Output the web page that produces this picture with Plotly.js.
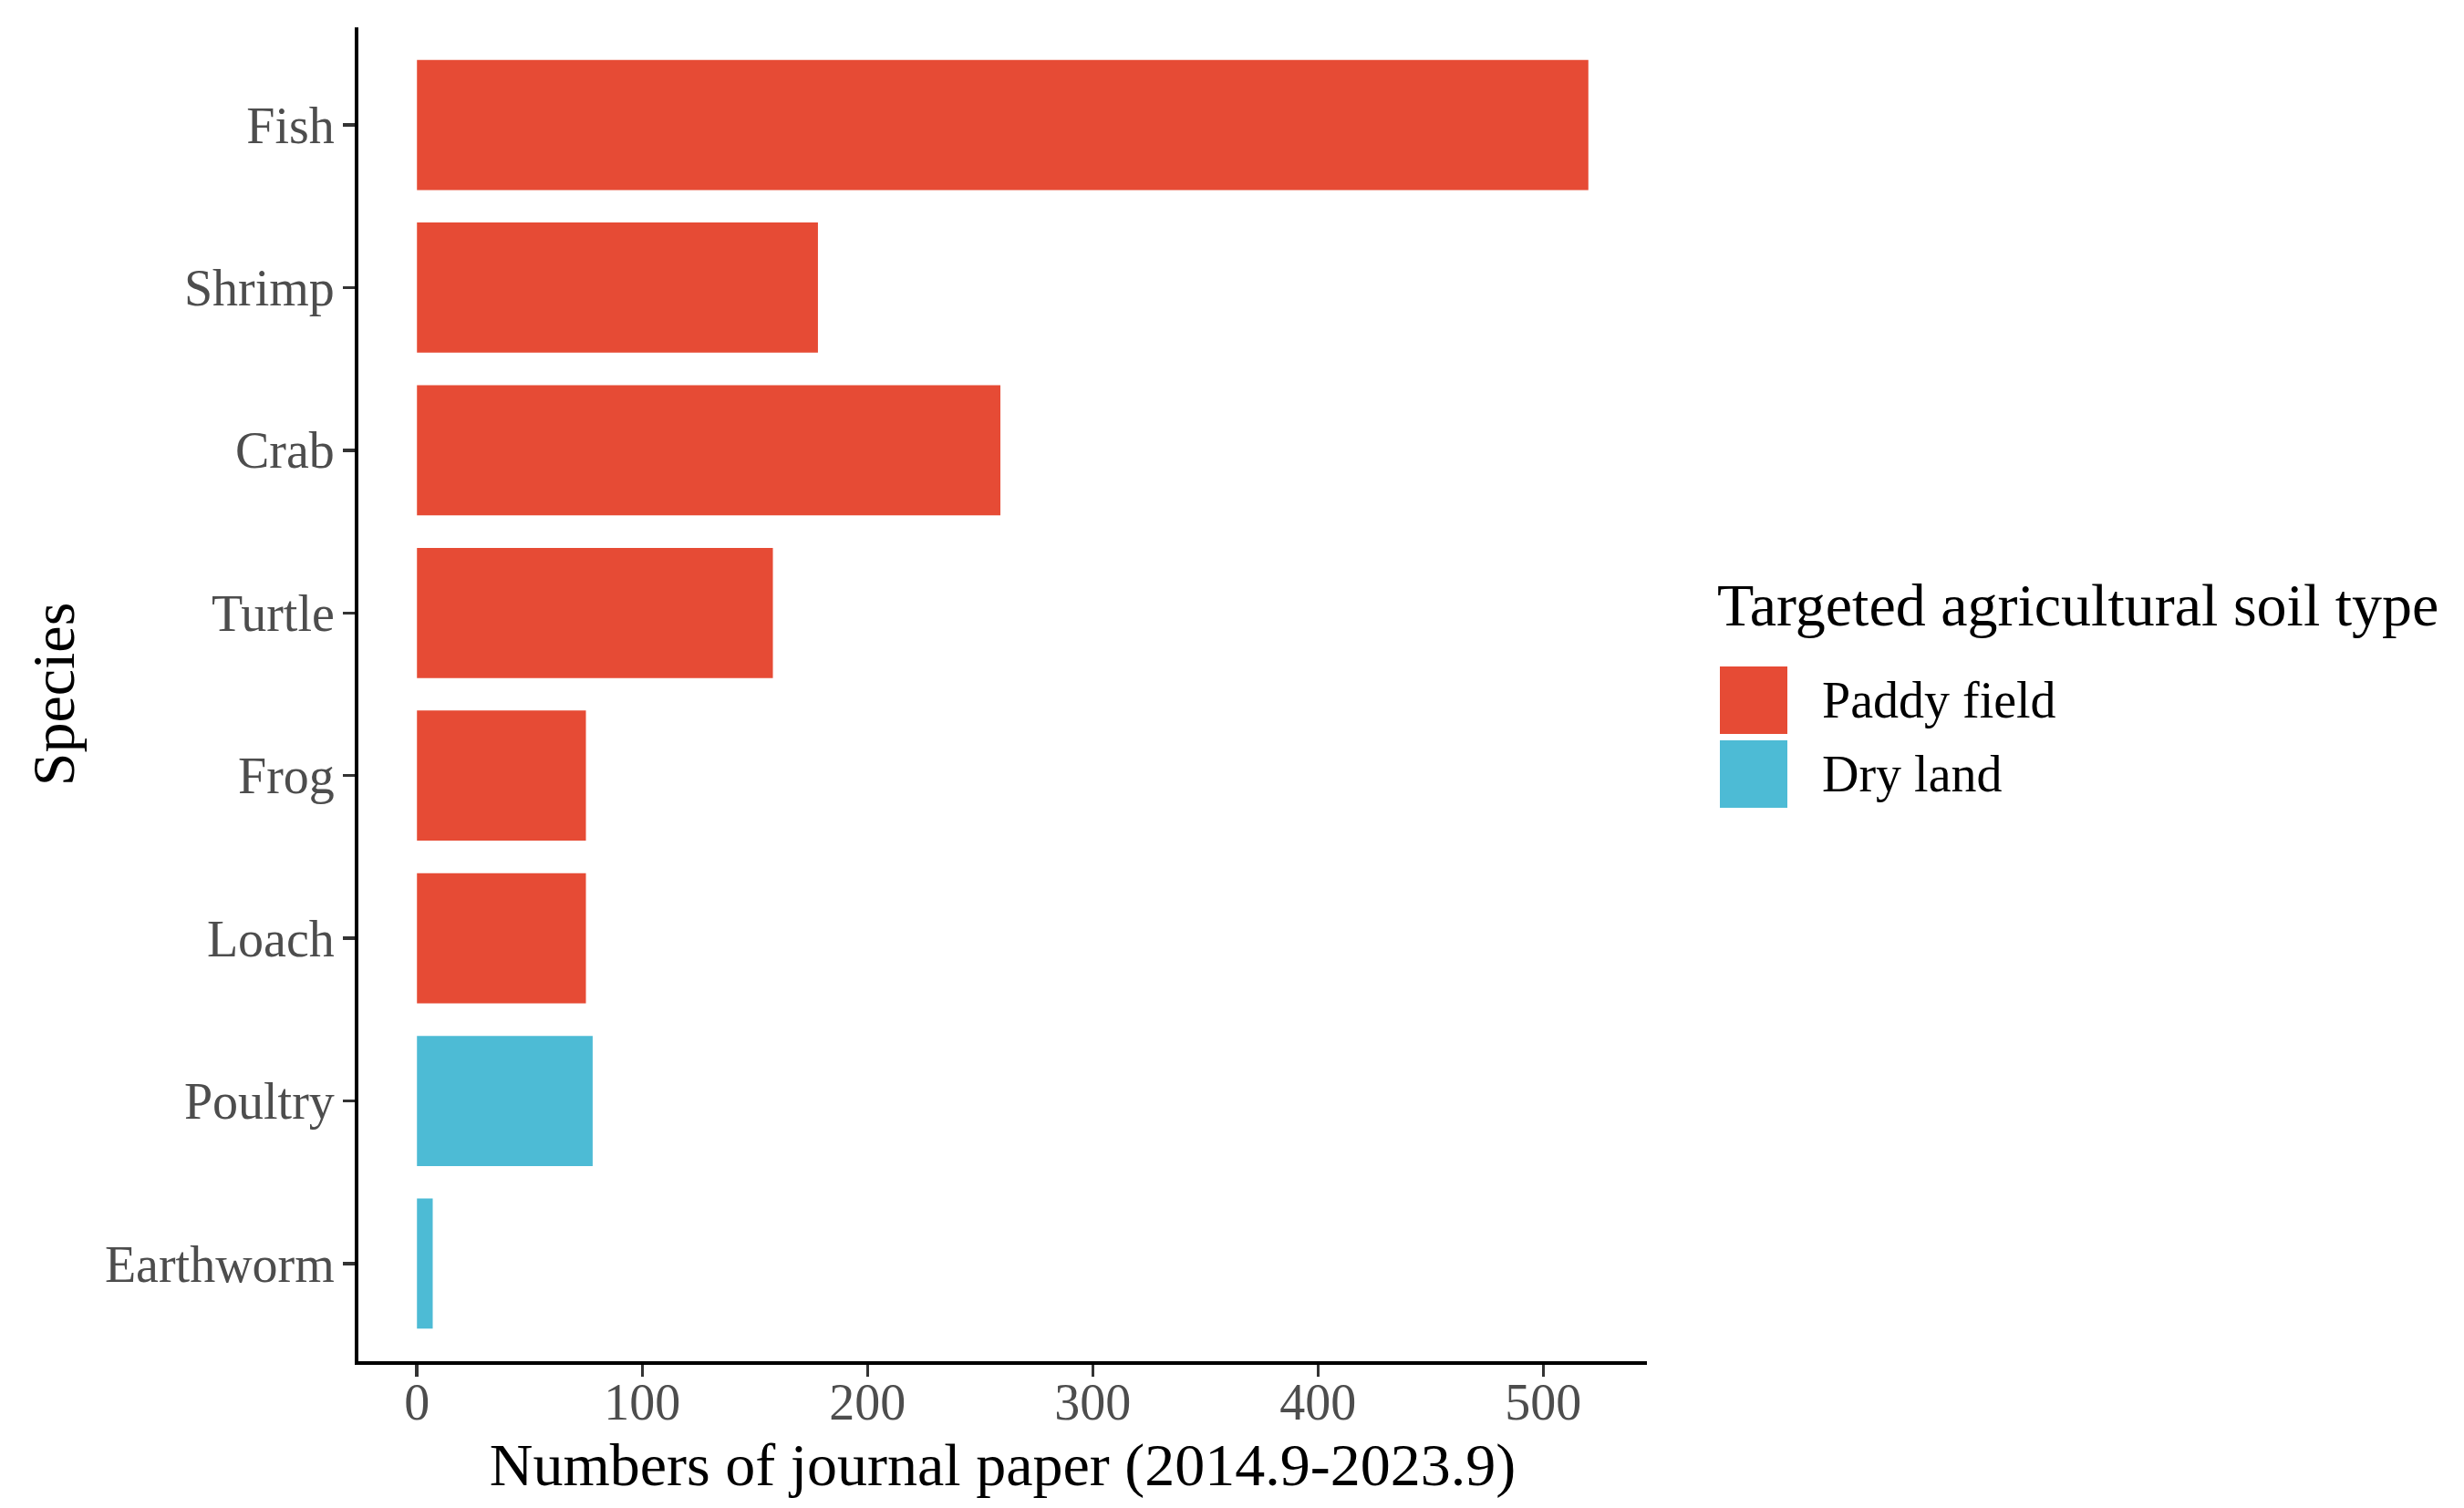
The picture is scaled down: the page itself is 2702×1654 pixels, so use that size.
<!DOCTYPE html>
<html>
<head>
<meta charset="utf-8">
<script src="https://cdn.plot.ly/plotly-3.0.1.min.js"></script>
<style>html,body{margin:0;padding:0;background:#fff;}#chart{width:2702px;height:1654px;}</style>
</head>
<body>
<div id="chart"></div>
<script>
// ---- data ----
const species = ["Fish", "Shrimp", "Crab", "Turtle", "Frog", "Loach", "Poultry", "Earthworm"];
const soilTypes = ["Paddy field", "Dry land"];
const paddySpecies = ["Fish", "Shrimp", "Crab", "Turtle", "Frog", "Loach"];
const paddyCounts = [520, 178, 259, 158, 75, 75];
const drySpecies = ["Poultry", "Earthworm"];
const dryCounts = [78, 7];
const soilColors = ["#E64B35", "#4DBBD5"];
const xTickVals = [0, 100, 200, 300, 400, 500];
const xTitle = "Numbers of journal paper (2014.9-2023.9)";
const yTitle = "Species";
const legendTitle = "Targeted agricultural soil type";

// ---- layout geometry (pixels) ----
const W = 2702, H = 1654;
const L = 393, R = 1806, T = 30, B = 1493;
const pw = R - L, ph = B - T;
const px2x = p => (p - L) / pw;
const px2y = p => (B - p) / ph;
const serif = "Liberation Serif, Times New Roman, serif";

const traces = [
  {type: "bar", orientation: "h", name: soilTypes[0], y: paddySpecies, x: paddyCounts,
   marker: {color: soilColors[0], line: {width: 0}}, width: 0.8, showlegend: false, hoverinfo: "x+y"},
  {type: "bar", orientation: "h", name: soilTypes[1], y: drySpecies, x: dryCounts,
   marker: {color: soilColors[1], line: {width: 0}}, width: 0.8, showlegend: false, hoverinfo: "x+y"}
];

// manual legend (ggplot-style large keys)
const keyLeft = 1886, keySize = 74, keyStep = 81, keyTop0 = 731;
const shapes = [], annotations = [];
soilTypes.forEach((s, i) => {
  const top = keyTop0 + i * keyStep;
  shapes.push({type: "rect", xref: "paper", yref: "paper",
    x0: px2x(keyLeft), x1: px2x(keyLeft + keySize),
    y0: px2y(top + keySize), y1: px2y(top),
    fillcolor: soilColors[i], line: {width: 0}, layer: "above"});
  annotations.push({xref: "paper", yref: "paper", x: px2x(1996), y: px2y(top + keySize / 2),
    xanchor: "left", yanchor: "middle", showarrow: false, text: s,
    font: {family: serif, size: 56, color: "#000"}});
});
annotations.push({xref: "paper", yref: "paper", x: px2x(1881), y: px2y(663),
  xanchor: "left", yanchor: "middle", showarrow: false, text: legendTitle,
  font: {family: serif, size: 66, color: "#000"}});

const layout = {
  width: W, height: H,
  margin: {l: L, r: W - R, t: T, b: H - B, pad: 0},
  paper_bgcolor: "#fff", plot_bgcolor: "#fff",
  barmode: "overlay",
  showlegend: false,
  font: {family: serif, color: "#000"},
  xaxis: {
    range: [-26, 546], tickvals: xTickVals, ticktext: xTickVals.map(String),
    showgrid: false, zeroline: false, showline: true, linecolor: "#000", linewidth: 4,
    ticks: "outside", ticklen: 13, tickwidth: 3.5, tickcolor: "#333",
    tickfont: {family: serif, size: 56, color: "#4D4D4D"},
    ticklabelstandoff: -20,
    title: {text: xTitle, font: {family: serif, size: 66, color: "#000"}, standoff: 16},
    automargin: false
  },
  yaxis: {
    type: "category", categoryorder: "array", categoryarray: species,
    range: [7.6, -0.6],
    showgrid: false, zeroline: false, showline: true, linecolor: "#000", linewidth: 4,
    ticks: "outside", ticklen: 13, tickwidth: 3.5, tickcolor: "#333",
    tickfont: {family: serif, size: 56, color: "#4D4D4D"},
    ticklabelstandoff: -2,
    title: {text: yTitle, font: {family: serif, size: 66, color: "#000"}, standoff: 13},
    automargin: false
  },
  shapes: shapes,
  annotations: annotations
};

Plotly.newPlot("chart", traces, layout, {displayModeBar: false, staticPlot: true});
</script>
</body>
</html>
